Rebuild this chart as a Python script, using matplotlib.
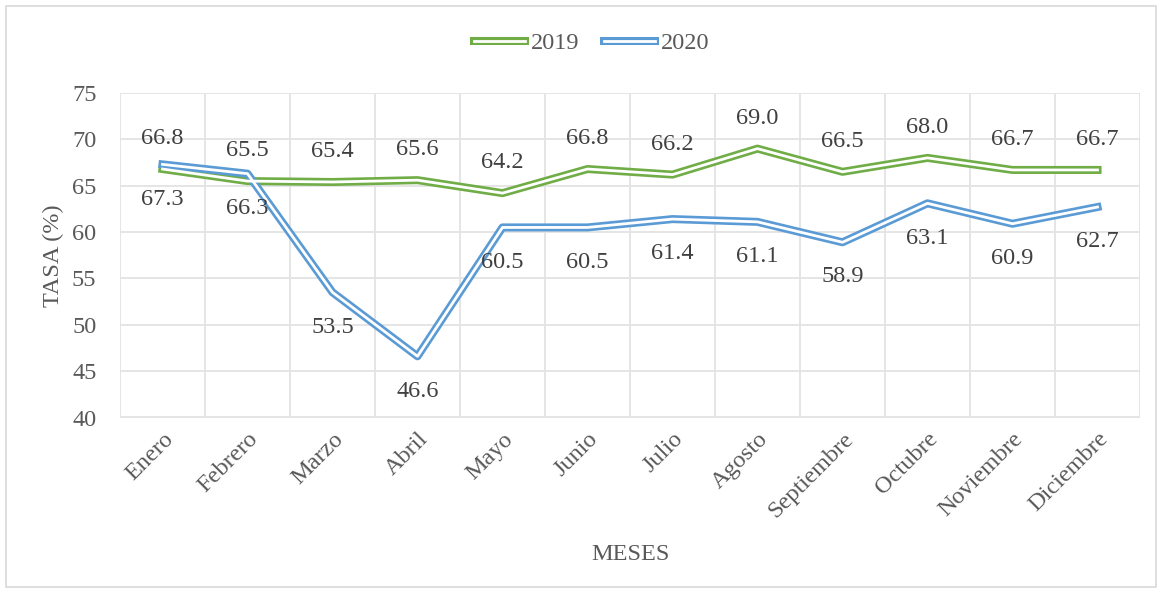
import numpy as np
import matplotlib
matplotlib.use('Agg')
import matplotlib.pyplot as plt
from matplotlib.patches import Rectangle

plt.rcParams['font.family'] = ['Liberation Serif', 'DejaVu Serif']

meses = ['Enero', 'Febrero', 'Marzo', 'Abril', 'Mayo', 'Junio', 'Julio',
         'Agosto', 'Septiembre', 'Octubre', 'Noviembre', 'Diciembre']
tasa_2019 = [66.8, 65.5, 65.4, 65.6, 64.2, 66.8, 66.2, 69.0, 66.5, 68.0, 66.7, 66.7]
tasa_2020 = [67.3, 66.3, 53.5, 46.6, 60.5, 60.5, 61.4, 61.1, 58.9, 63.1, 60.9, 62.7]
y_ticks = [40, 45, 50, 55, 60, 65, 70, 75]

txt = '#595959'
grid_c = '#E3E3E3'
fs = 17.5

fig = plt.figure(figsize=(11.62, 5.93), dpi=100)
ax = fig.add_axes([120/1162, 1 - 417.5/593, 1020/1162, 324.5/593])

# marco del grafico
fig.patches.append(Rectangle((6/1162, 0.01), 1 - 12/1162, 1 - 0.02, transform=fig.transFigure,
                             fill=False, edgecolor='#D9D9D9', lw=1.2))

x = np.arange(len(meses))
handles = []
for vals, color, off in [(tasa_2019, '#70AD47', 22), (tasa_2020, '#5B9BD5', -25)]:
    l1, = ax.plot(x, vals, color=color, lw=5.8, zorder=3)
    l2, = ax.plot(x, vals, color='white', lw=2.0, zorder=4)
    handles.append((l1, l2))
    for xi, v in zip(x, vals):
        ax.annotate(f'{v:.1f}', (xi, v), xytext=(0, off), textcoords='offset points',
                    ha='center', va='center', fontsize=fs, color='#404040', zorder=5)

ax.set_xlim(-0.5, len(meses) - 0.5)
ax.set_ylim(40, 75)
ax.set_yticks(y_ticks)
ax.set_xticks(x)
ax.set_xticklabels(meses, rotation=45, ha='right', rotation_mode='anchor')
ax.set_xticks(np.arange(-0.5, len(meses)), minor=True)
ax.grid(True, axis='y', color=grid_c, lw=1.3)
ax.grid(True, axis='x', which='minor', color=grid_c, lw=1.3)
ax.set_axisbelow(True)
for s in ax.spines.values():
    s.set_visible(False)
ax.tick_params(axis='both', which='both', length=0, labelsize=fs, colors=txt)
ax.tick_params(axis='y', pad=17)
ax.tick_params(axis='x', pad=8)

ax.set_xlabel('MESES', fontsize=fs, color=txt, labelpad=16)
ax.set_ylabel('TASA (%)', fontsize=fs, color=txt, labelpad=6)

leg = fig.legend(handles, ['2019', '2020'], loc='center', bbox_to_anchor=(592/1162, 1 - 43/593),
                 ncol=2, frameon=False, fontsize=fs, handlelength=2.1, handletextpad=0.25,
                 columnspacing=1.0, labelcolor=txt)

fig.savefig('out.png', dpi=100)
